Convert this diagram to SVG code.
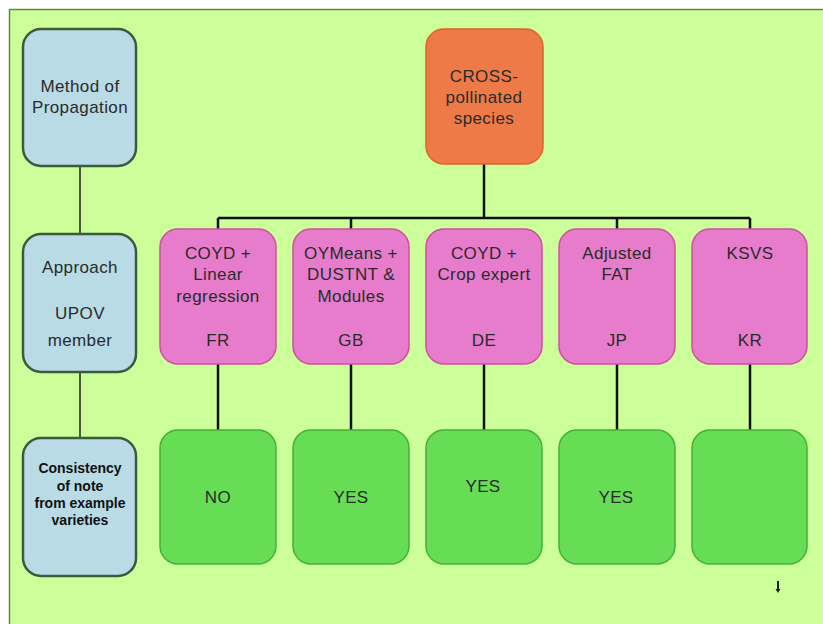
<svg xmlns="http://www.w3.org/2000/svg" width="823" height="624" viewBox="0 0 823 624">
<style>
text{font-family:"Liberation Sans",Arial,sans-serif;font-size:17px;letter-spacing:0.4px;fill:#2a2a2a;text-anchor:middle}
.lbl{fill:#b9dbe6;stroke:#3d5a3d;stroke-width:2.5}
.root{fill:#ee7a48;stroke:#e0622c;stroke-width:1.5}
.app{fill:#e67ccb;stroke:#cf4f9e;stroke-width:1.5}
.res{fill:#66dd55;stroke:#45b035;stroke-width:1.5}
.con{stroke:#111;stroke-width:2.5;fill:none}
.lcon{stroke:#222;stroke-width:1.5;fill:none}
.sm{font-size:14px;font-weight:bold;letter-spacing:0;fill:#111}
</style>
<rect x="0" y="0" width="823" height="624" fill="#ffffff"/>
<rect x="9.5" y="9.5" width="820" height="620" fill="#ccff99" stroke="#5c8a3c" stroke-width="1.5"/>
<g id="connectors">
<path class="lcon" d="M80 166V233M80 372V437"/>
<path class="con" d="M484 164V218M218 218H750M218 218V229M351 218V229M617 218V229M750 218V229"/>
<path class="con" d="M218 364V430M351 364V430M484 364V430M617 364V430M750 364V430"/>
</g>
<g id="method"><rect class="lbl" x="23" y="29" width="113" height="137" rx="18"/><text x="80" y="92">Method of</text><text x="80" y="113">Propagation</text></g>
<g id="approach"><rect class="lbl" x="23" y="234" width="113" height="138" rx="18"/><text x="80" y="273">Approach</text><text x="80" y="319">UPOV</text><text x="80" y="346">member</text></g>
<g id="consistency"><rect class="lbl" x="23" y="438" width="113" height="138" rx="18"/><text class="sm" x="80" y="473">Consistency</text><text class="sm" x="80" y="491">of note</text><text class="sm" x="80" y="508">from example</text><text class="sm" x="80" y="525">varieties</text></g>
<g id="cross"><rect class="root" x="426" y="29" width="117" height="135" rx="18"/><text x="484" y="82">CROSS-</text><text x="484" y="103">pollinated</text><text x="484" y="124">species</text></g>
<g id="fr"><rect class="app" x="160" y="229" width="116" height="135" rx="18"/><text x="218" y="259">COYD +</text><text x="218" y="280">Linear</text><text x="218" y="302">regression</text><text x="218" y="346">FR</text></g>
<g id="gb"><rect class="app" x="293" y="229" width="116" height="135" rx="18"/><text x="351" y="259">OYMeans +</text><text x="351" y="280">DUSTNT &amp;</text><text x="351" y="302">Modules</text><text x="351" y="346">GB</text></g>
<g id="de"><rect class="app" x="426" y="229" width="116" height="135" rx="18"/><text x="484" y="259">COYD +</text><text x="484" y="280">Crop expert</text><text x="484" y="346">DE</text></g>
<g id="jp"><rect class="app" x="559" y="229" width="116" height="135" rx="18"/><text x="617" y="259">Adjusted</text><text x="617" y="280">FAT</text><text x="617" y="346">JP</text></g>
<g id="kr"><rect class="app" x="692" y="229" width="115" height="135" rx="18"/><text x="750" y="259">KSVS</text><text x="750" y="346">KR</text></g>
<g id="no"><rect class="res" x="160" y="430" width="116" height="134" rx="18"/><text x="218" y="503">NO</text></g>
<g id="yes-gb"><rect class="res" x="293" y="430" width="116" height="134" rx="18"/><text x="351" y="503">YES</text></g>
<g id="yes-de"><rect class="res" x="426" y="430" width="116" height="134" rx="18"/><text x="483" y="492">YES</text></g>
<g id="yes-jp"><rect class="res" x="559" y="430" width="116" height="134" rx="18"/><text x="616" y="503">YES</text></g>
<g id="kr-res"><rect class="res" x="692" y="430" width="115" height="134" rx="18"/></g>
<path d="M777 581V589H775.5L778 593L780.5 589H779V581Z" fill="#222"/>
</svg>
